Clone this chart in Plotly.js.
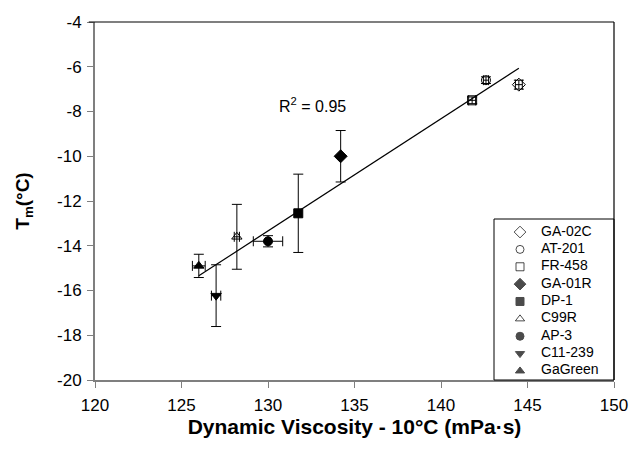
<!DOCTYPE html>
<html>
<head>
<meta charset="utf-8">
<script src="https://cdn.plot.ly/plotly-3.0.1.min.js"></script>
<style>html,body{margin:0;padding:0;background:#fff;}#chart{width:630px;height:454px;}</style>
</head>
<body>
<div id="chart"></div>
<script>
const names   = ["GA-02C", "AT-201", "FR-458", "GA-01R", "DP-1", "C99R", "AP-3", "C11-239", "GaGreen"];
const viscX   = [144.5, 142.6, 141.8, 134.2, 131.75, 128.2, 130.0, 127.0, 126.0];
const tempY   = [-6.8, -6.6, -7.5, -10.0, -12.55, -13.6, -13.8, -16.23, -14.9];
const errX    = [0.2, 0.15, 0.2, 0, 0, 0.15, 0.85, 0.27, 0.37];
const errY    = [0.2, 0.15, 0.15, 1.15, 1.75, 1.45, 0.25, 1.38, 0.52];
const symbols = ["diamond-open", "circle-open", "square-open", "diamond", "square", "triangle-up-open", "circle", "triangle-down", "triangle-up"];
const r2Label = "R<sup>2</sup> = 0.95";
const xTicks  = [120, 125, 130, 135, 140, 145, 150];
const yTicks  = [-4, -6, -8, -10, -12, -14, -16, -18, -20];

// linear regression of the points
const n = viscX.length;
const mx = viscX.reduce((a, b) => a + b, 0) / n;
const my = tempY.reduce((a, b) => a + b, 0) / n;
let sxy = 0, sxx = 0;
for (let i = 0; i < n; i++) { sxy += (viscX[i] - mx) * (tempY[i] - my); sxx += (viscX[i] - mx) ** 2; }
const slope = sxy / sxx, icpt = my - slope * mx;
const fx = [Math.min(...viscX), Math.max(...viscX)];
const fy = fx.map(v => icpt + slope * v);

const markerSize = s => s.indexOf("diamond") === 0 ? 10 : 9;

const traces = [{
  x: fx, y: fy, mode: "lines", type: "scatter", showlegend: false, hoverinfo: "skip",
  line: {color: "#000", width: 1.2}
}];
for (let i = 0; i < n; i++) {
  traces.push({
    x: [viscX[i]], y: [tempY[i]], name: names[i], type: "scatter", mode: "markers", showlegend: false,
    marker: {symbol: symbols[i], size: markerSize(symbols[i]), color: "#000", line: {color: "#000", width: 1}},
    error_y: {type: "data", array: [errY[i]], visible: errY[i] > 0, color: "#000", thickness: 1, width: 5},
    error_x: {type: "data", array: [errX[i]], visible: errX[i] > 0, color: "#000", thickness: 1, width: 5}
  });
}
// legend drawn on its own small axes
const idx = names.map((_, i) => i);
traces.push({
  x: idx.map(() => 26), y: idx, xaxis: "x2", yaxis: "y2", type: "scatter", mode: "markers",
  showlegend: false, hoverinfo: "skip",
  marker: {symbol: symbols, size: symbols.map(s => markerSize(s) - 1), color: "#000", line: {color: "#000", width: 1}}
});
traces.push({
  x: idx.map(() => 47), y: idx, xaxis: "x2", yaxis: "y2", type: "scatter", mode: "text",
  text: names, textposition: "middle right", showlegend: false, hoverinfo: "skip",
  textfont: {size: 14, color: "#000"}
});

const axBase = {showgrid: false, zeroline: false, showline: true, linecolor: "#7f7f7f", linewidth: 2,
  ticks: "outside", ticklen: 6, tickcolor: "#7f7f7f", tickwidth: 1, tickfont: {size: 17}};

const layout = {
  width: 630, height: 454,
  margin: {l: 95, r: 16, t: 22, b: 74},
  paper_bgcolor: "#fff", plot_bgcolor: "#fff",
  font: {family: "Liberation Sans, Arial, sans-serif", color: "#000", size: 14},
  xaxis: Object.assign({}, axBase, {
    range: [120, 150], tickvals: xTicks, ticktext: xTicks.map(String), ticklabelstandoff: 3,
    title: {text: "<b>Dynamic Viscosity - 10°C (mPa·s)</b>", font: {size: 21}, standoff: 5}
  }),
  yaxis: Object.assign({}, axBase, {
    range: [-20, -4], tickvals: yTicks, ticktext: yTicks.map(String), ticklabelstandoff: 2,
    title: {text: "<b>T<sub>m</sub>(°C)</b>", font: {size: 19}, standoff: 22}
  }),
  xaxis2: {domain: [0.7688, 1], range: [0, 120], visible: false, fixedrange: true, anchor: "y2"},
  yaxis2: {domain: [0, 0.4497], range: [8.52, -0.75], visible: false, fixedrange: true, anchor: "x2"},
  shapes: [
    {type: "line", xref: "paper", yref: "paper", x0: -0.012, x1: 1, y0: 1, y1: 1, line: {color: "#000", width: 1.2}},
    {type: "line", xref: "paper", yref: "paper", x0: 1, x1: 1, y0: 0, y1: 1, line: {color: "#000", width: 1.2}},
    {type: "rect", xref: "x2 domain", yref: "y2 domain", x0: 0, x1: 1, y0: 0, y1: 1,
     line: {color: "#000", width: 1}, fillcolor: "rgba(0,0,0,0)", layer: "above"}
  ],
  annotations: [{
    x: 132.55, y: -7.7, xref: "x", yref: "y", text: r2Label, showarrow: false,
    font: {size: 16}
  }],
  showlegend: false
};

Plotly.newPlot("chart", traces, layout, {staticPlot: true, displayModeBar: false});
</script>
</body>
</html>
